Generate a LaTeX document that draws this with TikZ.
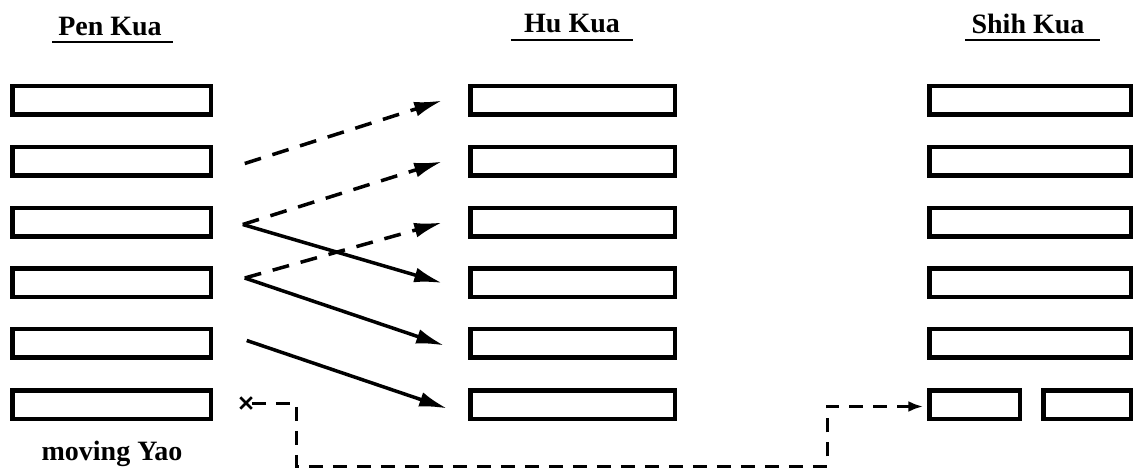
\documentclass[tikz,border=0pt]{standalone}
\usepackage{fontspec}
\setmainfont{Liberation Serif}
\usetikzlibrary{arrows.meta,shapes.misc,calc}
\begin{document}
\begin{tikzpicture}[x=1pt,y=-1pt,
  bar/.style={draw=black, line width=4.5pt, minimum height=28.5pt, inner sep=0pt, outer sep=0pt},
  penbar/.style={bar, minimum width=198.5pt},
  hubar/.style={bar, minimum width=204.5pt},
  shihbar/.style={bar, minimum width=201.5pt},
  title/.style={font=\bfseries\fontsize{28}{34}\selectfont, inner sep=0pt, anchor=base},
  uline/.style={line width=2.5pt},
  link/.style={line width=3.5pt, -{Latex[length=28pt,width=15pt]}},
  dlink/.style={link, dash pattern=on 17pt off 12pt},
  conn/.style={line width=3pt, dash pattern=on 14pt off 10pt, -{Latex[length=15pt,width=11pt]}},
  xmark/.style={draw, cross out, minimum size=9pt, line width=2.5pt, inner sep=0pt}
]
\useasboundingbox[fill=white] (0,0) rectangle (1133,470);

% titles
\node[title] (tp) at (110,36) {Pen Kua};
\node[title] (th) at (572,33) {Hu Kua};
\node[title] (ts) at (1028,34) {Shih Kua};
\draw[uline] ([shift={(-6,6)}]tp.base west) -- ([shift={(11,6)}]tp.base east);
\draw[uline] ([shift={(-13,7)}]th.base west) -- ([shift={(13,7)}]th.base east);
\draw[uline] ([shift={(-6,6)}]ts.base west) -- ([shift={(15,6)}]ts.base east);

% Pen Kua
\node[penbar] (p1) at (111.5,100.5) {};
\node[penbar] (p2) at (111.5,161.5) {};
\node[penbar] (p3) at (111.5,222.5) {};
\node[penbar] (p4) at (111.5,283) {};
\node[penbar] (p5) at (111.5,343.5) {};
\node[penbar] (p6) at (111.5,404.5) {};
\node[title] (my) at (112,460) {moving Yao};

% Hu Kua
\node[hubar] (h1) at (572.5,100.5) {};
\node[hubar] (h2) at (572.5,161.5) {};
\node[hubar] (h3) at (572.5,222.5) {};
\node[hubar] (h4) at (572.5,283) {};
\node[hubar] (h5) at (572.5,343.5) {};
\node[hubar] (h6) at (572.5,404.5) {};

% Shih Kua
\node[shihbar] (s1) at (1030,100.5) {};
\node[shihbar] (s2) at (1030,161.5) {};
\node[shihbar] (s3) at (1030,222.5) {};
\node[shihbar] (s4) at (1030,283) {};
\node[shihbar] (s5) at (1030,343.5) {};
\node[bar, minimum width=90.5pt] (s6a) at (974.5,404.5) {};
\node[bar, minimum width=87.5pt] (s6b) at (1087,404.5) {};

% arrows Pen -> Hu
\coordinate (a2) at ([shift={(34,2)}]p2.east);
\coordinate (a3) at ([shift={(32,2)}]p3.east);
\coordinate (a4) at ([shift={(34,-5)}]p4.east);
\coordinate (a5) at ([shift={(36,-3)}]p5.east);
\draw[dlink] (a2) -- ([shift={(-28,0)}]h1.west);
\draw[dlink] (a3) -- ([shift={(-28,0)}]h2.west);
\draw[dlink] (a4) -- ([shift={(-28,0)}]h3.west);
\draw[link] (a3) -- ([shift={(-28,0)}]h4.west);
\draw[link] (a4) -- ([shift={(-26,2)}]h5.west);
\draw[link] (a5) -- ([shift={(-23,4)}]h6.west);

% moving line connector
\node[xmark] (xm) at (246,403) {};
\coordinate (k1) at (296,466);
\coordinate (k2) at (827,466);
\draw[conn] (xm.east) -| (k1) -- (k2) |- ([shift={(-6,2)}]s6a.west);
\end{tikzpicture}
\end{document}
